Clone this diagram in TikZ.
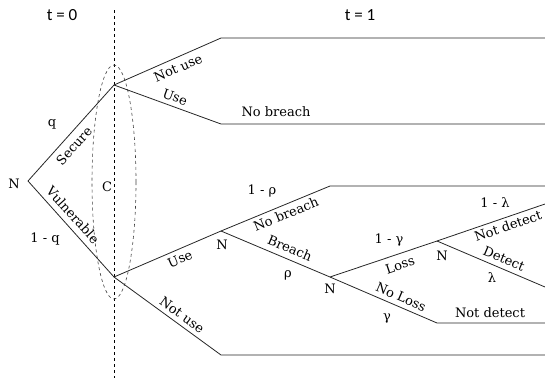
\documentclass[tikz,border=0pt]{standalone}
\usepackage{fontspec}
\setmainfont{DejaVu Serif}
\newfontfamily\timefont{Carlito}
\begin{document}
\begin{tikzpicture}[x=1pt,y=-1pt,
  lbl/.style={font=\fontsize{13}{15}\selectfont, inner sep=0pt},
  tlbl/.style={font=\timefont\fontsize{17}{19}\selectfont, inner sep=0pt},
  br/.style={line width=0.8pt, black!85},
  ]
\useasboundingbox (0,0) rectangle (545,378);
% coordinates
\coordinate (root) at (28,181);
\coordinate (cs) at (114,85);
\coordinate (cv) at (114,277);
\coordinate (a1) at (221,38);  \coordinate (a1e) at (545,38);
\coordinate (a2) at (221,124); \coordinate (a2e) at (545,124);
\coordinate (n1) at (221,231);
\coordinate (b1) at (330,186); \coordinate (b1e) at (545,186);
\coordinate (n2) at (330,277);
\coordinate (n3) at (437,241);
\coordinate (d1) at (545,204);
\coordinate (d2) at (545,287);
\coordinate (e1) at (437,323); \coordinate (e1e) at (545,323);
\coordinate (f1) at (221,355); \coordinate (f1e) at (545,355);
\coordinate (vtop) at (114,10); \coordinate (vbot) at (114,378);
% dashed time divider and information set
\draw[dashed, line width=0.6pt] (vtop) -- (vbot);
\draw[dashed, line width=0.6pt, black!75] (114,182) ellipse [x radius=22, y radius=117];
% branches
\draw[br] (root) -- (cs);
\draw[br] (root) -- (cv);
\draw[br] (cs) -- (a1) -- (a1e);
\draw[br] (cs) -- (a2) -- (a2e);
\draw[br] (cv) -- (n1);
\draw[br] (n1) -- (b1) -- (b1e);
\draw[br] (n1) -- (n2);
\draw[br] (n2) -- (n3);
\draw[br] (n3) -- (d1);
\draw[br] (n3) -- (d2);
\draw[br] (n2) -- (e1) -- (e1e);
\draw[br] (cv) -- (f1) -- (f1e);
% plain labels
\node[tlbl] (t0) at (62,15) {t = 0};
\node[tlbl] (t1) at (360,15) {t = 1};
\node[lbl] (nroot) at (14,184) {N};
\node[lbl] (q) at (52,124) {q};
\node[lbl] (oq) at (45,239) {1 - q};
\node[lbl] (C) at (107,187) {C};
\node[lbl] (nb1) at (276,112) {No breach};
\node[lbl] (N1) at (222,245) {N};
\node[lbl] (orho) at (262,191) {1 - ρ};
\node[lbl] (rho) at (288,275) {ρ};
\node[lbl] (N2) at (330,289) {N};
\node[lbl] (ogam) at (389,240) {1 - γ};
\node[lbl] (N3) at (442,256) {N};
\node[lbl] (olam) at (495,203) {1 - λ};
\node[lbl] (lam) at (492,278) {λ};
\node[lbl] (gam) at (387,318) {γ};
\node[lbl] (nd2) at (490,313) {Not detect};
% sloped labels
\node[lbl, rotate=48] (secure) at (74,146) {Secure};
\node[lbl, rotate=-48] (vuln) at (73,215) {Vulnerable};
\node[lbl, rotate=23.7] (nu1) at (178,68) {Not use};
\node[lbl, rotate=-20] (u1) at (175,97) {Use};
\node[lbl, rotate=23.3] (u2) at (180,259) {Use};
\node[lbl, rotate=-36] (nu2) at (182,315) {Not use};
\node[lbl, rotate=22.4] (nb2) at (286,214) {No breach};
\node[lbl, rotate=-22.9] (brch) at (290,248) {Breach};
\node[lbl, rotate=18.6] (loss) at (400,265) {Loss};
\node[lbl, rotate=-23.3] (nloss) at (401,297) {No Loss};
\node[lbl, rotate=18.9] (ndet) at (508,226) {Not detect};
\node[lbl, rotate=-23.1] (det) at (504,259) {Detect};
\end{tikzpicture}
\end{document}
